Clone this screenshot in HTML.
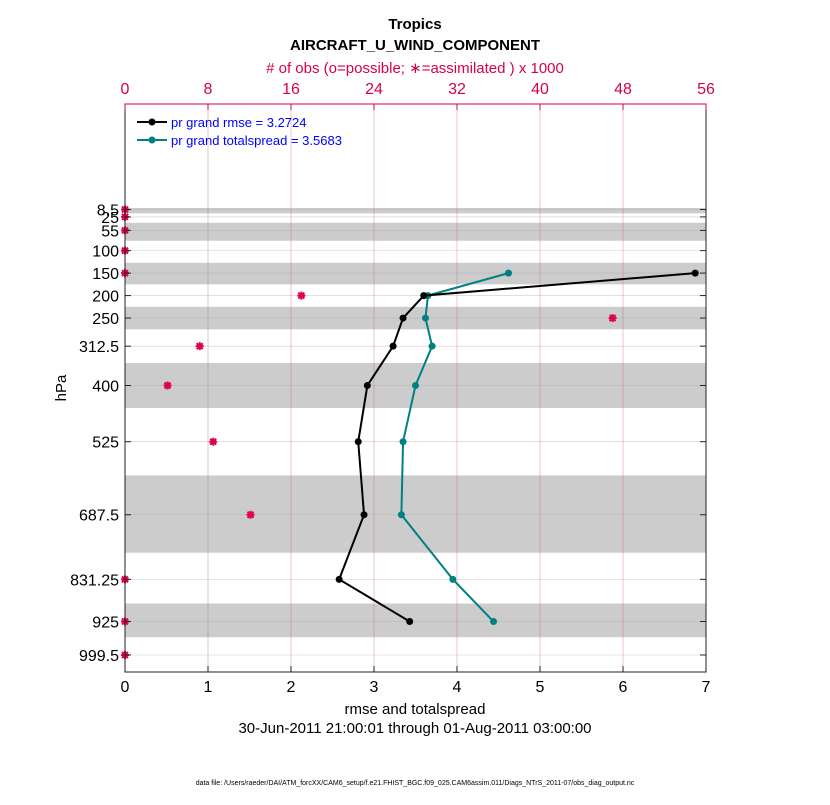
<!DOCTYPE html>
<html><head><meta charset="utf-8"><style>
body{margin:0;background:#fff}
svg text{font-family:"Liberation Sans",sans-serif}
</style></head><body>
<svg id="chart" width="830" height="800" xmlns="http://www.w3.org/2000/svg">
<text x="415" y="29" text-anchor="middle" font-size="15" font-weight="bold">Tropics</text>
<text x="415" y="50" text-anchor="middle" font-size="15" font-weight="bold">AIRCRAFT_U_WIND_COMPONENT</text>
<text x="415" y="73" text-anchor="middle" font-size="15" fill="#d6004f"># of obs (o=possible; ∗=assimilated ) x 1000</text>
<g id="bands"></g>
<g id="grid"></g>
<g id="series"></g>
<g id="axes"></g>
<g>
<line x1="137" y1="122" x2="167" y2="122" stroke="#000" stroke-width="2"/><circle cx="152" cy="122" r="3.5" fill="#000"/>
<text x="171" y="127" font-size="13" fill="#0000ff">pr grand rmse = 3.2724</text>
<line x1="137" y1="140" x2="167" y2="140" stroke="#008080" stroke-width="2"/><circle cx="152" cy="140" r="3.5" fill="#008080"/>
<text x="171" y="145" font-size="13" fill="#0000ff">pr grand totalspread = 3.5683</text>
</g>
<text transform="translate(66,388) rotate(-90)" text-anchor="middle" font-size="15">hPa</text>
<text x="415" y="714" text-anchor="middle" font-size="15">rmse and totalspread</text>
<text x="415" y="733" text-anchor="middle" font-size="15">30-Jun-2011 21:00:01 through 01-Aug-2011 03:00:00</text>
<text x="415" y="785" text-anchor="middle" font-size="7">data file: /Users/raeder/DAI/ATM_forcXX/CAM6_setup/f.e21.FHIST_BGC.f09_025.CAM6assim.011/Diags_NTrS_2011-07/obs_diag_output.nc</text>
</svg>
<script>
const levels=[8.5,25,55,100,150,200,250,312.5,400,525,687.5,831.25,925,999.5];
const levelLabels=["8.5","25","55","100","150","200","250","312.5","400","525","687.5","831.25","925","999.5"];
const rmseLevels=[150,200,250,312.5,400,525,687.5,831.25,925];
const rmse=[6.87,3.6,3.35,3.23,2.92,2.81,2.88,2.58,3.43];
const spread=[4.62,3.65,3.62,3.7,3.5,3.35,3.33,3.95,4.44];
const obsCount=[0,0,0,0,0,17.0,47.0,7.2,4.1,8.5,12.1,0,0,0];
const xTicks=[0,1,2,3,4,5,6,7];
const topTicks=[0,8,16,24,32,40,48,56];
const bandEdges=[[5,17],[38,78],[127,175],[225,275],[350,450],[600,772],[885,960]];

const L=125,R=706,T=104,B=672;
const x=v=>L+(v/7)*(R-L);
const xt=v=>L+(v/56)*(R-L);
const y=p=>209.5+(p-8.5)*(445.5/991);
const NS="http://www.w3.org/2000/svg";
function mk(parent,tag,a){const e=document.createElementNS(NS,tag);for(const k in a)e.setAttribute(k,a[k]);document.getElementById(parent).appendChild(e);return e;}

bandEdges.forEach(b=>{const e=mk('bands','rect',{x:L,y:y(b[0]),width:R-L,height:y(b[1])-y(b[0]),fill:'#cccccc'});

});
levels.forEach(p=>{const e=mk('grid','line',{x1:L,x2:R,y1:y(p),y2:y(p),stroke:'#aaa','stroke-width':0.6,'stroke-opacity':0.6});

});
topTicks.forEach(t=>{if(t>0&&t<56){const e=mk('grid','line',{x1:xt(t),x2:xt(t),y1:T,y2:B,stroke:'#c0607a','stroke-width':0.6,'stroke-opacity':0.6});

}});

levels.forEach((p,i)=>{const cx=xt(obsCount[i]),cy=y(p);
const e=mk('series','path',{d:`M${cx-4},${cy}L${cx+4},${cy}M${cx},${cy-4}L${cx},${cy+4}M${cx-3},${cy-3}L${cx+3},${cy+3}M${cx-3},${cy+3}L${cx+3},${cy-3}`,stroke:'#e0004f','stroke-width':2});


const c=mk('series','circle',{cx:cx,cy:cy,r:3,fill:'#e0004f'});

});

function line(vals,color,name){
const pts=vals.map((v,i)=>x(v)+','+y(rmseLevels[i])).join(' ');
const pl=mk('series','polyline',{points:pts,fill:'none',stroke:color,'stroke-width':2});


vals.forEach((v,i)=>{const c=mk('series','circle',{cx:x(v),cy:y(rmseLevels[i]),r:3.5,fill:color});

});}
line(spread,'#008080','spread');
line(rmse,'#000000','rmse');

const f=mk('axes','rect',{x:L,y:T,width:R-L,height:B-T,fill:'none',stroke:'#222','stroke-width':1});


mk('axes','line',{x1:L,x2:R,y1:T,y2:T,stroke:'#d6004f','stroke-width':1});
xTicks.forEach(t=>{mk('axes','line',{x1:x(t),x2:x(t),y1:B,y2:B-6,stroke:'#222'});
const e=mk('axes','text',{x:x(t),y:B+20,'text-anchor':'middle','font-size':16});e.textContent=t;

});
topTicks.forEach(t=>{mk('axes','line',{x1:xt(t),x2:xt(t),y1:T,y2:T+6,stroke:'#d6004f'});
const e=mk('axes','text',{x:xt(t),y:T-10,'text-anchor':'middle','font-size':16,fill:'#d6004f'});e.textContent=t;

});
levels.forEach((p,i)=>{mk('axes','line',{x1:L,x2:L+6,y1:y(p),y2:y(p),stroke:'#222'});mk('axes','line',{x1:R,x2:R-6,y1:y(p),y2:y(p),stroke:'#222'});
const e=mk('axes','text',{x:L-6,y:y(p)+6,'text-anchor':'end','font-size':16});e.textContent=levelLabels[i];

});
</script>
</body></html>
